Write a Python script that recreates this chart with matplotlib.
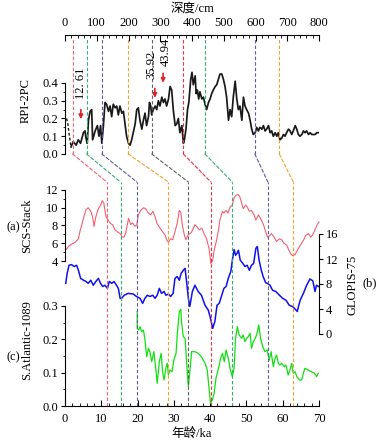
import matplotlib
matplotlib.use("Agg")
import matplotlib.pyplot as plt
from matplotlib.patches import ConnectionPatch
from matplotlib.transforms import blended_transform_factory
from matplotlib.ticker import MultipleLocator, FixedLocator

plt.rcParams['font.family'] = ['Liberation Serif', 'Noto Sans CJK SC']
plt.rcParams['font.size'] = 9

# ---------------- data ----------------
rpi_depth = [19, 26, 35, 42, 49, 58, 63, 66, 70, 74, 79, 84, 87, 95, 102, 107, 112, 116, 121, 126, 131, 137,
             142, 147, 152, 158, 163, 168, 173, 179, 184, 189, 194, 200, 205, 210, 215, 221, 226, 231, 236,
             242, 247, 252, 257, 263, 266, 270, 273, 278, 284, 289, 294, 299, 305, 310, 315, 320, 326, 331,
             336, 341, 347, 352, 357, 362, 368, 373, 376, 381, 386, 390, 396, 400, 404, 410, 413, 417, 421,
             425, 431, 436, 441, 446, 452, 457, 462, 467, 473, 478, 483, 488, 494, 499, 504, 509, 515, 520,
             525, 530, 536, 541, 546, 551, 557, 562, 567, 572, 578, 583, 588, 593, 599, 604, 609, 614, 620,
             625, 630, 635, 641, 646, 651, 656, 662, 667, 672, 677, 683, 688, 693, 698, 704, 709, 714, 719,
             725, 730, 735, 740, 746, 751, 756, 761, 767, 772, 777, 782, 788, 793, 800]
rpi_val = [0.04, 0.07, 0.05, 0.08, 0.06, 0.12, 0.13, 0.09, 0.06, 0.19, 0.24, 0.25, 0.08, 0.13, 0.16, 0.10,
           0.16, 0.06, 0.16, 0.29, 0.28, 0.24, 0.27, 0.21, 0.28, 0.26, 0.27, 0.22, 0.27, 0.23, 0.24, 0.17,
           0.10, 0.06, 0.05, 0.08, 0.12, 0.17, 0.25, 0.26, 0.19, 0.14, 0.19, 0.23, 0.16, 0.21, 0.29, 0.27,
           0.22, 0.25, 0.27, 0.25, 0.30, 0.27, 0.32, 0.29, 0.31, 0.27, 0.31, 0.38, 0.36, 0.25, 0.16, 0.17,
           0.20, 0.12, 0.16, 0.06, 0.08, 0.14, 0.25, 0.29, 0.42, 0.46, 0.39, 0.44, 0.34, 0.36, 0.31, 0.35,
           0.31, 0.32, 0.28, 0.25, 0.29, 0.31, 0.34, 0.36, 0.38, 0.39, 0.42, 0.45, 0.45, 0.42, 0.38, 0.32,
           0.19, 0.25, 0.21, 0.32, 0.41, 0.31, 0.25, 0.27, 0.19, 0.32, 0.27, 0.25, 0.23, 0.19, 0.14, 0.11,
           0.12, 0.15, 0.13, 0.15, 0.14, 0.16, 0.13, 0.14, 0.16, 0.12, 0.13, 0.10, 0.12, 0.10, 0.12, 0.08,
           0.09, 0.11, 0.10, 0.12, 0.14, 0.13, 0.11, 0.13, 0.16, 0.14, 0.11, 0.10, 0.11, 0.13, 0.12, 0.13,
           0.11, 0.12, 0.11, 0.11, 0.11, 0.12, 0.12]
rpi_gap_depth = [5, 9, 13, 19]
rpi_gap_val = [0.20, 0.17, 0.11, 0.04]

scs_age = [0.3, 0.9, 1.8, 2.8, 3.7, 4.1, 5.1, 5.8, 6.4, 7.1, 7.6, 8.0, 8.5, 9.2, 9.8, 10.3, 10.7, 11.3, 11.9,
           12.6, 13.1, 13.8, 14.4, 15.2, 15.8, 16.3, 16.8, 17.5, 18.1, 18.6, 19.3, 19.8, 20.2, 20.9, 21.6,
           22.2, 23.0, 23.6, 24.2, 24.8, 25.4, 26.2, 26.9, 27.6, 28.0, 28.5, 29.1, 29.7, 30.3, 30.9, 31.5,
           31.9, 32.4, 32.9, 33.3, 34.0, 34.6, 35.2, 35.8, 36.5, 37.0, 37.7, 38.3, 39.0, 39.7, 40.2, 40.7,
           41.1, 41.8, 42.3, 42.7, 43.4, 43.8, 44.4, 44.9, 45.5, 46.1, 46.6, 47.1, 47.7, 48.2, 48.7, 49.1,
           49.8, 50.2, 50.8, 51.4, 52.1, 52.6, 53.3, 53.9, 54.7, 55.3, 55.8, 56.5, 56.9, 57.6, 58.3, 59.1,
           59.7, 60.3, 61.1, 61.6, 62.2, 62.7, 63.4, 64.0, 64.6, 65.2, 65.8, 66.4, 67.1, 67.7, 68.2, 68.9,
           69.5, 70.0]
scs_val = [5.3, 5.6, 5.9, 6.1, 6.5, 7.3, 8.8, 9.8, 10.0, 9.6, 9.0, 7.9, 9.0, 9.9, 10.3, 10.8, 10.5, 9.0, 8.6,
           8.2, 8.1, 7.5, 7.3, 7.1, 6.7, 6.7, 7.3, 8.8, 8.1, 8.3, 7.9, 8.1, 9.2, 9.7, 10.0, 9.9, 9.4, 9.2,
           9.6, 9.0, 8.2, 7.7, 7.3, 6.9, 6.4, 6.1, 6.5, 6.4, 7.3, 8.2, 9.7, 9.5, 7.9, 6.9, 6.4, 7.0, 7.1, 7.5,
           8.1, 7.8, 7.5, 7.7, 7.1, 6.5, 5.4, 3.7, 4.1, 5.2, 6.4, 7.5, 8.6, 9.6, 9.4, 9.7, 9.4, 10.1, 10.3,
           11.1, 11.4, 11.5, 11.2, 10.5, 9.9, 10.3, 10.1, 9.6, 9.7, 9.2, 8.6, 9.2, 8.8, 8.1, 7.3, 6.7, 6.9,
           7.1, 6.7, 6.2, 6.5, 6.4, 6.0, 5.8, 5.3, 4.8, 4.6, 4.7, 5.2, 5.6, 6.0, 6.4, 6.9, 7.1, 6.7, 6.9, 7.5,
           8.1, 8.4]

glopis_age = [0.2, 0.6, 1.1, 1.8, 2.5, 3.2, 3.7, 4.3, 5.1, 5.8, 6.4, 7.1, 7.8, 8.5, 9.2, 9.8, 10.4, 11.0, 11.7,
              12.2, 12.9, 13.5, 14.2, 14.7, 15.2, 15.6, 16.3, 17.4, 18.8, 19.7, 20.7, 21.4, 22.0, 22.7, 23.4,
              24.2, 24.8, 25.4, 26.0, 26.6, 27.3, 27.8, 28.5, 29.1, 29.8, 30.3, 30.9, 31.5, 32.0, 32.6, 33.1,
              33.5, 34.0, 34.4, 35.1, 35.8, 36.7, 37.6, 38.6, 39.5, 40.1, 40.7, 41.3, 41.9, 42.5, 43.2, 43.8,
              44.4, 45.0, 45.7, 46.2, 46.6, 47.0, 47.4, 47.8, 48.3, 49.0, 49.6, 50.2, 50.8, 51.4, 52.0, 52.6,
              53.0, 53.5, 54.1, 54.6, 55.3, 55.8, 56.5, 57.2, 58.1, 59.1, 60.0, 60.9, 61.8, 62.7, 63.4, 64.0,
              64.8, 65.7, 66.6, 67.5, 68.3, 68.9, 69.3, 69.9]
glopis_val = [8.1, 9.7, 11.0, 11.1, 10.8, 11.0, 10.2, 8.9, 8.6, 8.4, 8.1, 8.6, 7.8, 8.4, 8.9, 8.1, 7.6, 7.8, 7.3,
              8.4, 8.1, 8.4, 7.8, 7.3, 5.7, 5.7, 6.2, 6.5, 6.4, 6.0, 5.7, 4.9, 5.7, 6.2, 6.0, 6.2, 5.7, 6.2,
              7.3, 6.5, 6.8, 6.2, 6.4, 6.0, 6.5, 8.9, 9.2, 8.6, 9.7, 10.2, 10.5, 8.4, 5.7, 4.4, 6.8, 7.8, 6.8,
              6.2, 4.6, 3.8, 2.5, 0.9, 2.0, 4.6, 4.9, 6.2, 7.3, 7.6, 8.9, 10.0, 12.1, 13.5, 12.6, 12.9, 13.4,
              11.8, 11.3, 10.8, 11.0, 10.2, 11.0, 11.3, 13.7, 14.0, 11.8, 10.2, 9.2, 8.2, 8.1, 7.8, 7.0, 6.8,
              6.2, 5.7, 5.4, 4.6, 4.4, 4.0, 3.6, 5.4, 6.5, 7.8, 8.8, 8.5, 6.8, 7.8, 7.6]

satl_age = [19.9, 19.9, 20.3, 20.7, 21.1, 21.6, 22.0, 22.5, 23.0, 23.4, 23.9, 24.5, 25.1, 25.4, 26.0, 26.5,
            26.9, 27.3, 27.8, 28.2, 28.5, 28.9, 29.5, 30.0, 30.6, 31.0, 31.5, 31.9, 32.1, 32.6, 33.1, 33.5,
            34.0, 34.4, 34.9, 35.8, 36.7, 37.6, 38.6, 39.2, 39.7, 40.1, 40.6, 41.1, 41.6, 42.3, 42.9, 43.4,
            43.9, 44.4, 45.0, 45.5, 46.1, 46.6, 47.0, 47.5, 48.0, 48.7, 49.1, 49.6, 50.1, 50.5, 51.0, 51.4,
            51.9, 52.4, 52.8, 53.4, 53.9, 54.5, 55.1, 55.7, 56.3, 56.8, 57.4, 57.9, 58.3, 58.8, 59.2, 59.7,
            60.4, 60.9, 61.5, 62.0, 62.5, 62.9, 63.4, 63.9, 64.6, 65.2, 65.7, 66.1, 67.0, 67.9, 68.8, 69.3,
            69.8]
satl_val = [0.283, 0.233, 0.228, 0.238, 0.223, 0.228, 0.203, 0.148, 0.173, 0.163, 0.133, 0.163, 0.103,
            0.068, 0.133, 0.158, 0.103, 0.078, 0.113, 0.128, 0.093, 0.108, 0.103, 0.138, 0.158, 0.223, 0.283,
            0.29, 0.253, 0.208, 0.203, 0.133, 0.058, 0.103, 0.163, 0.163, 0.158, 0.148, 0.128, 0.108, 0.053,
            0.008, 0.018, 0.038, 0.083, 0.113, 0.143, 0.158, 0.133, 0.168, 0.143, 0.113, 0.088, 0.113, 0.203,
            0.238, 0.213, 0.203, 0.213, 0.193, 0.203, 0.208, 0.218, 0.173, 0.193, 0.203, 0.213, 0.243, 0.203,
            0.178, 0.163, 0.168, 0.138, 0.163, 0.118, 0.143, 0.153, 0.128, 0.123, 0.128, 0.118, 0.123, 0.093,
            0.108, 0.128, 0.098, 0.103, 0.088, 0.078, 0.078, 0.098, 0.113, 0.108, 0.103, 0.098, 0.088, 0.098]

tie_depth = [24, 68, 116, 199, 273, 373, 441, 598, 675]
tie_age = [11.5, 15.3, 19.8, 28.5, 34.0, 40.2, 46.1, 55.9, 62.9]
tie_color = ['#f0606e', '#30b070', '#5a5aa8', '#f0a030', '#606060', '#e8303c', '#30b070', '#5a5aa8', '#f0a030']

marker_labels = ['12. 61', '35.92', '43.94']
marker_depth = [50, 283, 309]
marker_val = [0.18, 0.30, 0.385]

# ---------------- layout ----------------
W, H = 380, 444
fig = plt.figure(figsize=(W / 100, H / 100), dpi=100)


def pos(l, t, r, b):
    return [l / W, 1 - b / H, (r - l) / W, (b - t) / H]


L, R = 65, 319
ax_top = fig.add_axes(pos(L, 35, R, 154))
ax_a = fig.add_axes(pos(L, 190, R, 261))
ax_b = fig.add_axes(pos(L, 234, R, 334))
ax_c = fig.add_axes(pos(L, 306, R, 406))
for ax in (ax_top, ax_a, ax_b, ax_c):
    ax.patch.set_visible(False)

FS = 9

# ---- top: RPI vs depth ----
ax_top.plot(rpi_depth, rpi_val, color='#1a1a1a', lw=1.25)
ax_top.plot(rpi_gap_depth, rpi_gap_val, color='#1a1a1a', lw=1.0, ls=(0, (2, 1.5)))
ymax_top = 0.67
ax_top.set_xlim(0, 800)
ax_top.set_ylim(0, ymax_top)
ax_top.spines['bottom'].set_visible(False)
ax_top.spines['right'].set_visible(False)
ax_top.spines['left'].set_bounds(0, 0.4)
ax_top.xaxis.set_ticks_position('top')
ax_top.xaxis.set_label_position('top')
ax_top.set_xticks(range(0, 801, 100))
ax_top.xaxis.set_minor_locator(MultipleLocator(20))
ax_top.tick_params(axis='x', which='major', direction='in', length=4, pad=4, labelsize=FS)
ax_top.tick_params(axis='x', which='minor', direction='in', length=2)
ax_top.set_yticks([0.0, 0.1, 0.2, 0.3, 0.4])
ax_top.set_yticklabels(['0.0', '0.1', '0.2', '0.3', '0.4'])
ax_top.yaxis.set_minor_locator(FixedLocator([0.05, 0.15, 0.25, 0.35]))
ax_top.tick_params(axis='y', which='major', direction='out', length=3, pad=2, labelsize=FS)
ax_top.tick_params(axis='y', which='minor', direction='out', length=1.5)
ax_top.set_xlabel('深度/cm', fontsize=FS, labelpad=4)
ax_top.set_ylabel('RPI-2PC', fontsize=FS)
ax_top.yaxis.set_label_coords(-0.13, 0.45)

for lab, d, v in zip(marker_labels, marker_depth, marker_val):
    ax_top.annotate('', xy=(d, v), xytext=(d, v + 0.085),
                    arrowprops=dict(arrowstyle='-|>', color='#e0202a', lw=1.2, mutation_scale=6))
ax_top.text(marker_depth[0], marker_val[0] + 0.13, marker_labels[0], rotation=90,
            ha='center', va='bottom', fontsize=FS)
ax_top.text(marker_depth[1] - 10, marker_val[1] + 0.12, marker_labels[1], rotation=90,
            ha='center', va='bottom', fontsize=FS)
ax_top.text(marker_depth[2] + 8, marker_val[2] + 0.11, marker_labels[2], rotation=90,
            ha='center', va='bottom', fontsize=FS)

# ---- (a) SCS stack ----
ax_a.plot(scs_age, scs_val, color='#f06070', lw=0.8, clip_on=False)
ax_a.set_xlim(0, 70)
ax_a.set_ylim(4, 12)
for s in ('top', 'right', 'bottom'):
    ax_a.spines[s].set_visible(False)
ax_a.set_xticks([])
ax_a.set_yticks([4, 6, 8, 10, 12])
ax_a.yaxis.set_minor_locator(MultipleLocator(1))
ax_a.tick_params(axis='y', which='major', direction='out', length=3, pad=2, labelsize=FS)
ax_a.tick_params(axis='y', which='minor', direction='out', length=1.5)
ax_a.set_ylabel('SCS-Stack', fontsize=FS)
ax_a.yaxis.set_label_coords(-0.126, 0.5)

# ---- (b) GLOPIS ----
ax_b.plot(glopis_age, glopis_val, color='#1010f0', lw=1.1, clip_on=False)
ax_b.set_xlim(0, 70)
ax_b.set_ylim(0, 16)
for s in ('top', 'left', 'bottom'):
    ax_b.spines[s].set_visible(False)
ax_b.set_xticks([])
ax_b.yaxis.set_ticks_position('right')
ax_b.yaxis.set_label_position('right')
ax_b.set_yticks([0, 4, 8, 12, 16])
ax_b.yaxis.set_minor_locator(MultipleLocator(2))
ax_b.tick_params(axis='y', which='major', direction='out', length=3, pad=2, labelsize=FS)
ax_b.tick_params(axis='y', which='minor', direction='out', length=1.5)
ax_b.set_ylabel('GLOPIS-75', fontsize=FS, rotation=90)
ax_b.yaxis.set_label_coords(1.11, 0.49)

# ---- (c) S. Atlantic ----
ax_c.plot(satl_age, satl_val, color='#10e010', lw=0.9, clip_on=False)
ax_c.set_xlim(0, 70)
ax_c.set_ylim(0, 0.3)
ax_c.spines['top'].set_visible(False)
ax_c.spines['right'].set_visible(False)
ax_c.set_xticks(range(0, 71, 10))
ax_c.xaxis.set_minor_locator(MultipleLocator(2))
ax_c.tick_params(axis='x', which='major', direction='in', length=4, pad=5, labelsize=FS)
ax_c.tick_params(axis='x', which='minor', direction='in', length=2)
ax_c.set_yticks([0.0, 0.1, 0.2, 0.3])
ax_c.set_yticklabels(['0.0', '0.1', '0.2', '0.3'])
ax_c.yaxis.set_minor_locator(MultipleLocator(0.05))
ax_c.tick_params(axis='y', which='major', direction='out', length=3, pad=2, labelsize=FS)
ax_c.tick_params(axis='y', which='minor', direction='out', length=1.5)
ax_c.set_ylabel('S.Atlantic-1089', fontsize=FS)
ax_c.yaxis.set_label_coords(-0.126, 0.66)
ax_c.set_xlabel('年龄/ka', fontsize=FS, labelpad=2)

# ---- panel tags ----
fig.text(13 / W, 1 - 227 / H, '(a)', ha='center', va='center', fontsize=FS)
fig.text(370 / W, 1 - 283 / H, '(b)', ha='center', va='center', fontsize=FS)
fig.text(13 / W, 1 - 357 / H, '(c)', ha='center', va='center', fontsize=FS)

# ---- tie lines ----
top_y = 0.655              # just below depth axis line (data units of RPI axis)
low_top = (406 - 182) / 100  # top of lower verticals, in ax_c axes fraction
tr_c = blended_transform_factory(ax_c.transData, ax_c.transAxes)
dash = (0, (3, 2))
for d, a, c in zip(tie_depth, tie_age, tie_color):
    ax_top.plot([d, d], [0, top_y], color=c, lw=0.8, ls=dash, clip_on=False)
    con = ConnectionPatch(xyA=(d, 0), coordsA=ax_top.transData,
                          xyB=(a, low_top), coordsB=tr_c,
                          color=c, lw=0.8, ls=dash)
    fig.add_artist(con)
    ax_c.plot([a, a], [0, low_top], color=c, lw=0.8, ls=dash, transform=tr_c, clip_on=False)

fig.savefig('out.png', dpi=100)
